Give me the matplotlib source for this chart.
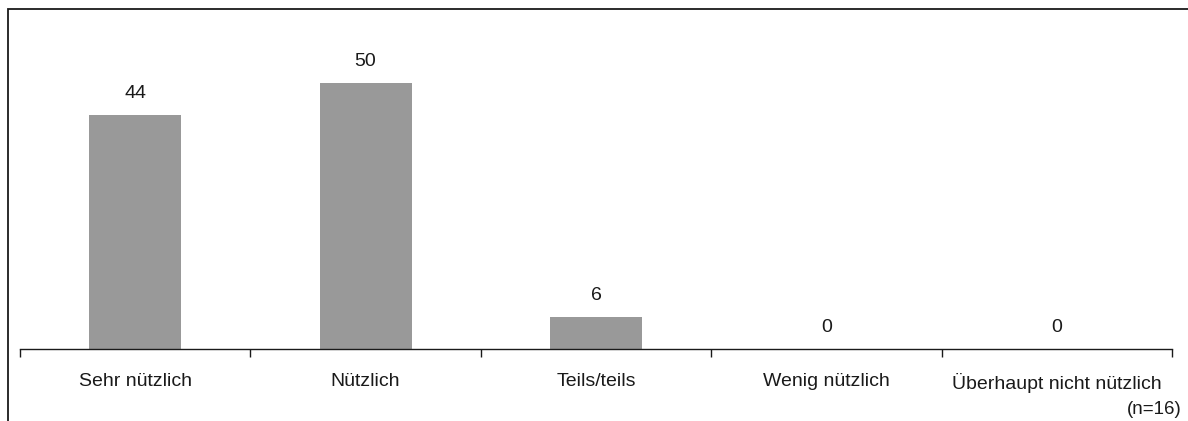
import matplotlib
matplotlib.use('Agg')
import matplotlib.pyplot as plt
from matplotlib.patches import Rectangle

categories = ['Sehr nützlich', 'Nützlich', 'Teils/teils', 'Wenig nützlich', 'Überhaupt nicht nützlich']
values = [44, 50, 6, 0, 0]
note = '(n=16)'

plt.rcParams['font.family'] = ['Liberation Sans', 'DejaVu Sans']

W, H = 1188, 421
fig = plt.figure(figsize=(W / 100, H / 100), dpi=100)

# outer frame, cut off at right and bottom like the original
fig.patches.append(Rectangle((8 / W, -0.1), 1.2, 1 - 9 / H + 0.1, transform=fig.transFigure,
                             fill=False, edgecolor='#1a1a1a', linewidth=1.3))

ax = fig.add_axes([20 / W, (H - 349) / H, 1152 / W, 319.2 / H])
x = range(len(categories))
bars = ax.bar(x, values, width=0.4, color='#999999')
ax.set_xlim(-0.5, len(categories) - 0.5)
ax.set_ylim(0, 60)

for xi, v in zip(x, values):
    ax.annotate(str(v), (xi, v), xytext=(0, 9.5), textcoords='offset points',
                ha='center', va='bottom', fontsize=14, color='#1a1a1a')

for s in ['top', 'right', 'left']:
    ax.spines[s].set_visible(False)
ax.spines['bottom'].set_color('#1a1a1a')
ax.spines['bottom'].set_linewidth(1.0)
ax.set_yticks([])
ax.set_xticks([i - 0.5 for i in range(len(categories) + 1)], minor=False)
ax.set_xticklabels([])
ax.tick_params(axis='x', direction='out', length=6, width=1.0, color='#1a1a1a')
ax.set_xticks(list(x), minor=True)
ax.set_xticklabels(categories, minor=True, fontsize=14, color='#1a1a1a')
ax.tick_params(axis='x', which='minor', length=0, pad=17.5)

fig.text(1182 / W, 1 - 409 / H, note, ha='right', va='center', fontsize=13.5, color='#1a1a1a')

fig.savefig('out.png', dpi=100)
